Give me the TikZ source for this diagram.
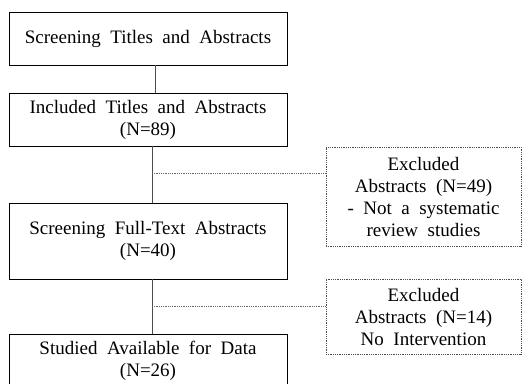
\documentclass[tikz,border=0pt]{standalone}
\usepackage{fontspec}
\setmainfont{Liberation Serif}
\usetikzlibrary{positioning}
\begin{document}
\begin{tikzpicture}[x=1pt,y=-1pt]
    \tikzstyle{stage} = [draw=black, thick, minimum width=278pt, align=center, inner sep=0pt, font=\fontsize{19}{22}\selectfont];
    \tikzstyle{excl} = [draw=black!70, densely dotted, thick, minimum width=195pt, align=center, inner sep=0pt, font=\fontsize{19}{22}\selectfont];
    \tikzstyle{vline} = [black!70, thick];
    \tikzstyle{dline} = [black!60, densely dotted, thick];

    \useasboundingbox (0,0) rectangle (522,383);

    \node[stage, minimum height=53pt] (B-1) at (148,38.5) {Screening\ \ Titles\ \ and\ \ Abstracts};
    \node[stage, minimum height=53pt] (B-2) at (148,119.5) {Included\ \ Titles\ \ and\ \ Abstracts\\(N=89)};
    \node[stage, minimum height=76pt] (B-3) at (148,241) {Screening\ \ Full-Text\ \ Abstracts\\(N=40)};
    \node[stage, minimum height=53pt] (B-4) at (148,360.5) {Studied\ \ Available\ \ for\ \ Data\\(N=26)};

    \node[excl, minimum height=99pt] (E-1) at (423.5,196.5) {Excluded\\Abstracts\ \ (N=49)\\-\ \ Not\ \ a\ \ systematic\\review\ \ studies};
    \node[excl, minimum height=75pt] (E-2) at (423.5,316.5) {Excluded\\Abstracts\ \ (N=14)\\No\ \ Intervention};

    \coordinate (J-1) at (152,173);
    \coordinate (J-2) at (152,306);

    \draw[vline] ([xshift=7pt]B-1.south) -- ([xshift=7pt]B-2.north);
    \draw[vline] ([xshift=4pt]B-2.south) -- ([xshift=4pt]B-3.north);
    \draw[vline] ([xshift=4pt]B-3.south) -- ([xshift=4pt]B-4.north);

    \draw[dline] (J-1) -- (E-1.west |- J-1);
    \draw[dline] (J-2) -- (E-2.west |- J-2);

\end{tikzpicture}
\end{document}
